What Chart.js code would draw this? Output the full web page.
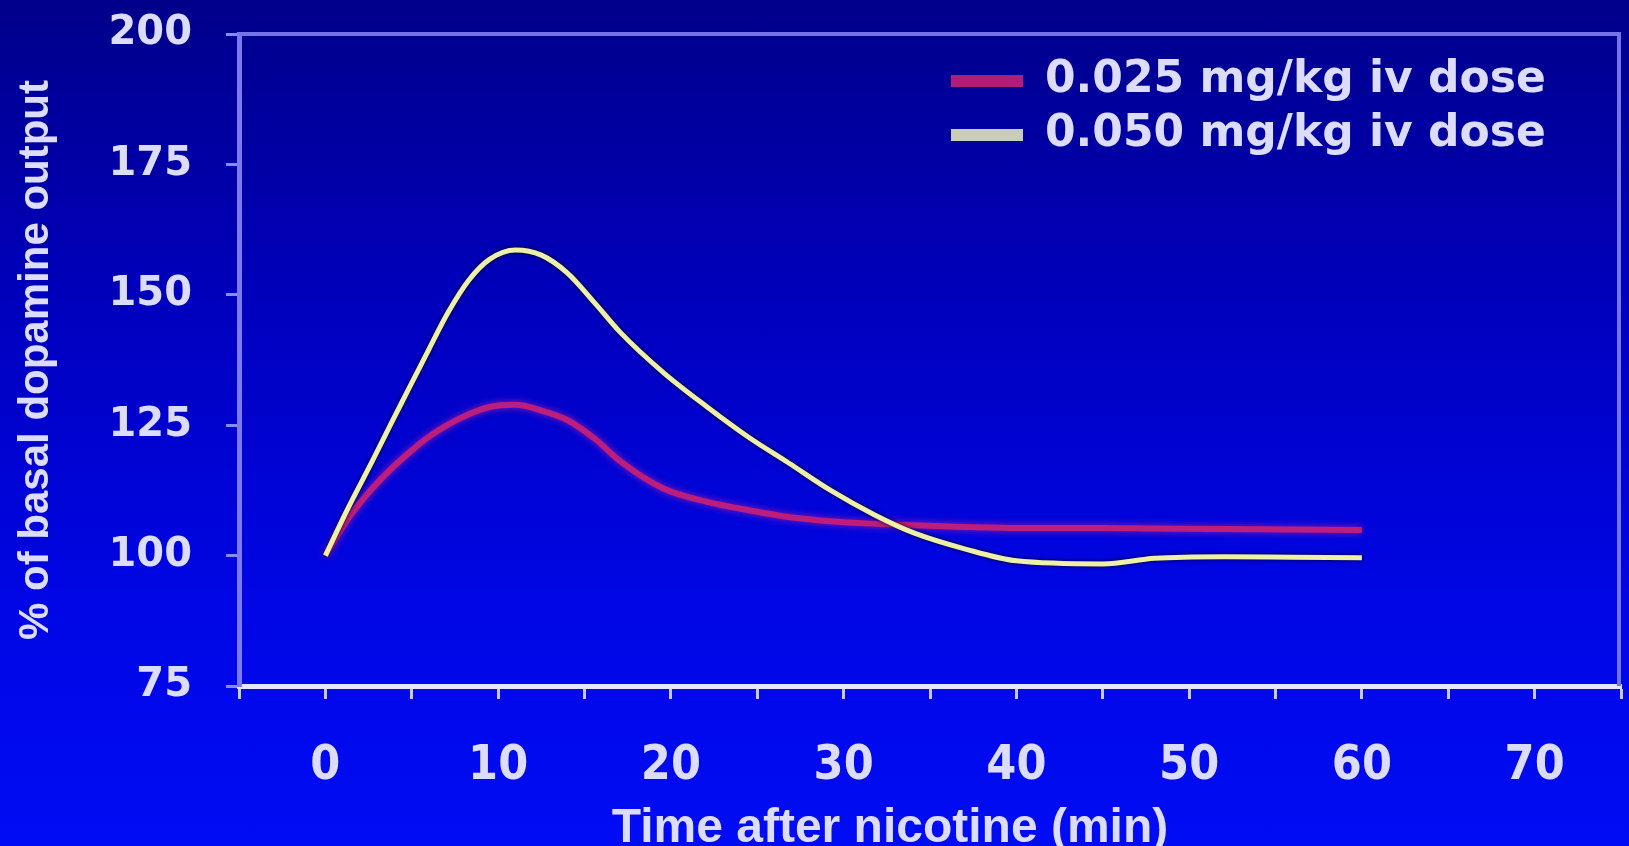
<!DOCTYPE html>
<html><head><meta charset="utf-8">
<script src="https://cdn.jsdelivr.net/npm/chart.js@4.4.1/dist/chart.umd.min.js"></script>
<style>
html,body{margin:0;padding:0;width:1629px;height:846px;overflow:hidden;
background:linear-gradient(to bottom,#00008a 0%,#0000bc 35%,#0006e4 70%,#000cf4 100%);}
#wrap{position:relative;width:1629px;height:846px;}
</style></head><body><div id="wrap"><canvas id="c"></canvas></div>
<script>
// ---- data ----
const seriesLabels = ['0.025 mg/kg iv dose', '0.050 mg/kg iv dose'];
const timeMin = [0, 1.3, 2.7, 3.8, 4.8, 6, 7.1, 8.3, 9.5, 11, 12.5, 14, 15.6, 17.1, 19.6, 22.1, 24.5, 26.8, 29.2, 31.8, 34.1, 37, 40, 45, 48, 52, 56, 60];
const dose025 = [100, 107, 112.8, 116.6, 119.6, 122.8, 125.1, 127.1, 128.5, 128.9, 127.8, 126, 122.4, 118, 112.8, 110.3, 108.7, 107.4, 106.6, 106.1, 105.8, 105.5, 105.3, 105.3, 105.2, 105.1, 105, 104.9];
const dose050 = [100, 109, 118, 125.3, 131.8, 139.6, 146.6, 152.8, 156.8, 158.6, 157.6, 154.2, 148.4, 142.7, 135, 128.5, 122.7, 117.8, 112.6, 107.8, 104.3, 101.3, 99, 98.4, 99.5, 99.8, 99.7, 99.6];
const yTickValues = [75, 100, 125, 150, 175, 200];
const xTickLabels = [0, 10, 20, 30, 40, 50, 60, 70];
const xTitle = 'Time after nicotine (min)';
const yTitle = '% of basal dopamine output';

const toPts = arr => arr.map((v, i) => ({x: timeMin[i], y: v}));
const txt = '#dcdcff';
const glow = ['rgba(170,30,170,0.85)', 'rgba(0,0,30,0.95)'];

const frame = {
  id: 'frame',
  beforeDatasetsDraw(chart) {
    const {ctx, chartArea: a} = chart;
    ctx.save();
    ctx.strokeStyle = '#7474e6';
    ctx.lineWidth = 4;
    ctx.beginPath();
    ctx.moveTo(a.left, a.top);
    ctx.lineTo(a.right - 2, a.top);
    ctx.lineTo(a.right - 2, a.bottom);
    ctx.stroke();
    ctx.restore();
  },
  beforeDatasetDraw(chart, args) {
    const ctx = chart.ctx;
    ctx.save();
    ctx.shadowColor = glow[args.index];
    ctx.shadowBlur = args.index === 0 ? 7 : 4;
  },
  afterDatasetDraw(chart) { chart.ctx.restore(); }
};
const legendPlace = {
  id: 'legendPlace',
  afterLayout(chart) {
    const lg = chart.legend;
    if (!lg) return;
    const w = lg.width, h = lg.height;
    lg.left = 941; lg.top = 49;
    lg.right = lg.left + w; lg.bottom = lg.top + h;
  }
};

new Chart(document.getElementById('c'), {
  type: 'line',
  data: {
    datasets: [
      {label: seriesLabels[0], data: toPts(dose025), borderColor: '#bc1e7c', backgroundColor: '#b01e78',
       borderWidth: 6, pointRadius: 0, cubicInterpolationMode: 'monotone', order: 1},
      {label: seriesLabels[1], data: toPts(dose050), borderColor: '#eef0a8', backgroundColor: '#c8ccb8',
       borderWidth: 5, pointRadius: 0, cubicInterpolationMode: 'monotone', order: 0}
    ]
  },
  options: {
    responsive: true, maintainAspectRatio: false, animation: false,
    layout: {padding: {left: 0, right: 8, top: 34, bottom: 0}},
    plugins: {
      tooltip: {enabled: false},
      legend: {
        position: 'chartArea', align: 'start',
        labels: {
          color: txt, boxWidth: 72, boxHeight: 12, padding: 10,
          font: {family: 'DejaVu Sans', weight: 'bold', size: 44},
          sort: (a, b) => a.datasetIndex - b.datasetIndex,
          generateLabels: (chart) => Chart.defaults.plugins.legend.labels.generateLabels(chart)
            .map(l => Object.assign(l, {lineWidth: 0, strokeStyle: 'rgba(0,0,0,0)'}))
        }
      }
    },
    scales: {
      x: {
        type: 'linear', min: -5, max: 75,
        afterFit: s => { s.height = 160; s.paddingLeft = 0; s.paddingRight = 0; },
        ticks: {
          stepSize: 5, autoSkip: false, maxRotation: 0, color: txt, padding: 39,
          font: {family: "'Liberation Sans Narrow', 'DejaVu Sans Condensed', sans-serif", weight: 'bold', size: 48},
          callback: v => xTickLabels.includes(v) ? String(v) : ''
        },
        grid: {drawOnChartArea: false, drawTicks: true, tickLength: 13, tickWidth: 3, tickColor: '#c8c8ff'},
        border: {display: true, color: '#e6e6ff', width: 5},
        title: {display: true, text: xTitle + '\u00a0\u00a0\u00a0\u00a0\u00a0\u00a0', color: txt,
          font: {family: 'Liberation Sans', weight: 'bold', size: 48, lineHeight: 0.7},
          padding: {top: 0, bottom: 0}}
      },
      y: {
        min: 75, max: 200,
        afterFit: s => { s.width = 239; s.paddingTop = 0; s.paddingBottom = 0; },
        afterBuildTicks: s => { s.ticks = yTickValues.map(v => ({value: v})); },
        ticks: {color: txt, padding: 34,
          font: {family: 'DejaVu Sans', weight: 'bold', size: 40}},
        grid: {drawOnChartArea: false, drawTicks: true, tickLength: 13, tickWidth: 3, tickColor: '#8a8af5'},
        border: {display: true, color: '#7c7cf0', width: 5},
        title: {display: true, text: yTitle, color: txt,
          font: {family: 'Liberation Sans', weight: 'bold', size: 42},
          padding: {top: 11, bottom: 0}}
      }
    }
  },
  plugins: [frame, legendPlace]
});
</script></body></html>
